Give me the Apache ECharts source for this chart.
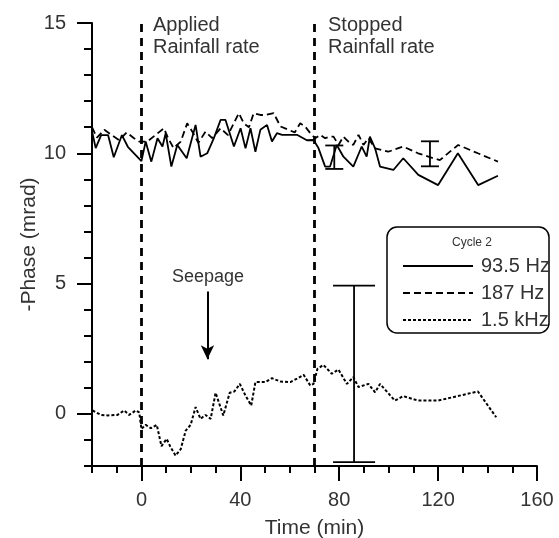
<!DOCTYPE html>
<html>
<head>
<meta charset="utf-8">
<script src="https://cdn.jsdelivr.net/npm/echarts@6/dist/echarts.min.js"></script>
<style>
  html, body { margin: 0; padding: 0; background: #fff; }
  #chart { width: 559px; height: 538px; }
</style>
</head>
<body>
<div id="chart"></div>
<script>
// [time (min), -phase (mrad)]
var hz93 = [
  [-20, 10.85], [-18.5, 10.2], [-16.3, 10.7], [-13.5, 10.7], [-11.2, 9.85], [-7.9, 10.7], [-5.5, 10.25],
  [-3, 10.0], [0, 9.7], [1.7, 10.45], [4, 9.68], [6.5, 10.58], [8.5, 10.26], [9.8, 10.77], [12.1, 9.49],
  [14.5, 10.32], [18.3, 9.81], [21.9, 11.09], [23.9, 9.87], [26.6, 10.0], [29.3, 10.58], [32, 11.28],
  [34, 11.28], [37.4, 10.26], [40.1, 10.96], [42.1, 10.19], [44.1, 10.96], [46.1, 10.06], [48.1, 10.9],
  [50.8, 11.09], [52.8, 10.45], [54.8, 10.77], [56.9, 10.71], [58.9, 10.71], [62.9, 10.71], [66.9, 10.5],
  [69.6, 10.51], [71.6, 10.2], [74.3, 9.49], [76.3, 9.49], [79, 10.32], [81.7, 9.87], [85.7, 9.49],
  [89.1, 10.26], [91.1, 9.87], [92.4, 10.64], [94.5, 10.19], [96.5, 9.49], [101.9, 9.36], [105.9, 9.81],
  [112, 9.17], [120, 8.78], [128, 10.0], [136.2, 8.78], [144.2, 9.14]
];
var hz187 = [
  [-20, 11.0], [-18, 10.6], [-15, 10.9], [-12, 10.7], [-9, 10.5], [-6, 10.8], [-3, 10.58], [-0.9, 10.45],
  [2.4, 10.45], [5.8, 10.71], [9.1, 10.96], [10.8, 10.58], [13, 10.2], [15.9, 10.45], [18.5, 11.15],
  [20.6, 10.83], [23, 10.4], [25.9, 10.83], [28.6, 10.58], [32, 10.96], [35, 10.7], [39.4, 11.54],
  [41.4, 11.15], [43.5, 11.0], [45.4, 11.54], [48.1, 11.47], [50.1, 11.47], [53.5, 11.54], [56.2, 11.03],
  [59.5, 10.9], [62, 10.8], [64.2, 11.15], [66.2, 11.03], [68.3, 10.77], [70.3, 10.58], [72.3, 10.71],
  [74.3, 10.58], [76.3, 10.64], [77.7, 10.64], [79.7, 10.32], [81.7, 10.64], [83.7, 10.45], [85.7, 10.32],
  [87.8, 10.71], [89.8, 10.32], [91.8, 10.58], [94.5, 10.19], [99.8, 10.06], [105.9, 10.26], [111.9, 10.0],
  [118, 9.81], [120.7, 9.74], [128.1, 10.32], [136.1, 10.0], [144.2, 9.68]
];
var khz15 = [
  [-19.8, 0.13], [-16.4, -0.04], [-13.7, -0.06], [-9.7, -0.04], [-7, 0.13], [-5, -0.04], [-2.3, 0.13],
  [-0.9, 0.06], [0, -0.58], [1.7, -0.42], [3.8, -0.55], [6.2, -0.42], [8.1, -1.24], [10.2, -0.96],
  [11.8, -1.28], [13.8, -1.6], [15.9, -1.35], [17.9, -0.64], [19.9, -0.42], [21.9, 0.26], [23.9, -0.19],
  [25.9, -0.04], [28, -0.19], [30, 0.81], [33.1, -0.06], [35.7, 0.81], [37.6, 0.86], [39.8, 1.15],
  [42.1, 0.7], [44.4, 0.32], [46.1, 1.22], [50.1, 1.22], [52.8, 1.37], [56.2, 1.24], [60.2, 1.22],
  [62.9, 1.35], [65.6, 1.5], [68.3, 1.09], [69.6, 1.15], [71.2, 1.73], [73.6, 1.88], [77, 1.54],
  [79.7, 1.7], [83.1, 1.15], [85.7, 1.41], [87.8, 1.03], [91.8, 1.15], [94.5, 0.83], [96.5, 1.15],
  [102.5, 0.51], [105.9, 0.68], [111.9, 0.51], [120, 0.51], [128.7, 0.7], [136.1, 0.86], [143.5, -0.13]
];
// [time, low, high]
var errorBars = [[78, 9.4, 10.3], [116.7, 9.5, 10.46], [86, -1.85, 4.92]];
var rainfallLines = [0, 70];
var seepageArrow = [[26.7, 4.7], [26.7, 2.1]];
var xLabelValues = [0, 40, 80, 120, 160];
var yLabelValues = [0, 5, 10, 15];

var capHalf = [9, 9, 21];
var textColor = '#333';
var font = 'Liberation Sans, Arial, sans-serif';

var chart = echarts.init(document.getElementById('chart'));

var option = {
  animation: false,
  backgroundColor: '#fff',
  textStyle: { fontFamily: font },
  grid: { left: 92, right: 22, top: 23, bottom: 72, containLabel: false, outerBoundsMode: 'none' },
  xAxis: [
    {
      type: 'value', min: -20, max: 160, interval: 10,
      name: 'Time (min)', nameLocation: 'middle', nameGap: 52,
      nameTextStyle: { fontSize: 21, color: textColor, fontFamily: font },
      axisLine: { onZero: false, lineStyle: { color: '#000', width: 2 } },
      axisTick: { length: 7, lineStyle: { color: '#000', width: 2 } },
      axisLabel: { customValues: xLabelValues, fontSize: 20, color: textColor, margin: 24, fontFamily: font },
      splitLine: { show: false }
    },
    {
      type: 'value', min: -20, max: 160, interval: 10, position: 'bottom', offset: 0,
      axisLine: { show: false, onZero: false },
      axisTick: { customValues: xLabelValues, length: 15, lineStyle: { color: '#000', width: 2 } },
      axisLabel: { show: false },
      splitLine: { show: false }
    }
  ],
  yAxis: [
    {
      type: 'value', min: -2, max: 15, interval: 1,
      name: '-Phase (mrad)', nameLocation: 'middle', nameGap: 52, nameMoveOverlap: false,
      nameTextStyle: { fontSize: 21, color: textColor, fontFamily: font },
      axisLine: { onZero: false, lineStyle: { color: '#000', width: 2 } },
      axisTick: { length: 8, lineStyle: { color: '#000', width: 2 } },
      axisLabel: { customValues: yLabelValues, fontSize: 20, color: textColor, margin: 26, fontFamily: font },
      splitLine: { show: false }
    },
    {
      type: 'value', min: -2, max: 15, interval: 1, position: 'left', offset: 0,
      axisLine: { show: false, onZero: false },
      axisTick: { customValues: yLabelValues, length: 15, lineStyle: { color: '#000', width: 2 } },
      axisLabel: { show: false },
      splitLine: { show: false }
    }
  ],
  legend: {
    orient: 'vertical',
    left: 397, top: 251,
    itemWidth: 70, itemHeight: 14, itemGap: 7,
    itemStyle: { opacity: 0 },
    textStyle: { fontSize: 20, color: textColor, fontFamily: font, padding: [0, 0, 0, 3] },
    data: ['93.5 Hz', '187 Hz', '1.5 kHz']
  },
  graphic: [
    { type: 'rect', shape: { x: 387, y: 227, width: 162, height: 106, r: 10 },
      style: { fill: '#fff', stroke: '#000', lineWidth: 1.5 }, z: -1 },
    { type: 'text', x: 472, y: 243, style: { text: 'Cycle 2', fontSize: 12, fill: textColor,
      fontFamily: font, align: 'center', verticalAlign: 'middle' } },
    { type: 'text', x: 153, y: 14, style: { text: 'Applied\nRainfall rate', fontSize: 20, lineHeight: 22,
      fill: textColor, fontFamily: font } },
    { type: 'text', x: 328, y: 14, style: { text: 'Stopped\nRainfall rate', fontSize: 20, lineHeight: 22,
      fill: textColor, fontFamily: font } },
    { type: 'text', x: 208, y: 277, style: { text: 'Seepage', fontSize: 18, fill: textColor,
      fontFamily: font, align: 'center', verticalAlign: 'middle' } }
  ],
  series: [
    {
      name: '93.5 Hz', type: 'line', data: hz93, symbol: 'none',
      lineStyle: { color: '#000', width: 1.8 }, itemStyle: { color: '#000' },
      markLine: {
        silent: true, symbol: ['none', 'none'], label: { show: false },
        lineStyle: { color: '#000', width: 2.8, type: [8, 6] },
        data: rainfallLines.map(function (t) { return [{ coord: [t, -2] }, { coord: [t, 15] }]; })
      }
    },
    {
      name: '187 Hz', type: 'line', data: hz187, symbol: 'none',
      lineStyle: { color: '#000', width: 1.8, type: [7, 4] }, itemStyle: { color: '#000' }
    },
    {
      name: '1.5 kHz', type: 'line', data: khz15, symbol: 'none',
      lineStyle: { color: '#000', width: 2, type: [3, 2] }, itemStyle: { color: '#000' },
      markLine: {
        silent: true, symbol: ['none', 'arrow'], symbolSize: [10, 14], label: { show: false },
        lineStyle: { color: '#000', width: 2, type: 'solid' },
        data: [[{ coord: seepageArrow[0] }, { coord: seepageArrow[1] }]]
      }
    },
    {
      type: 'custom', data: errorBars, silent: true, z: 3,
      renderItem: function (params, api) {
        var lo = api.coord([api.value(0), api.value(1)]);
        var hi = api.coord([api.value(0), api.value(2)]);
        var h = capHalf[params.dataIndex];
        var st = { stroke: '#000', lineWidth: 1.8 };
        return {
          type: 'group',
          children: [
            { type: 'line', shape: { x1: lo[0], y1: lo[1], x2: hi[0], y2: hi[1] }, style: st },
            { type: 'line', shape: { x1: lo[0] - h, y1: lo[1], x2: lo[0] + h, y2: lo[1] }, style: st },
            { type: 'line', shape: { x1: hi[0] - h, y1: hi[1], x2: hi[0] + h, y2: hi[1] }, style: st }
          ]
        };
      }
    }
  ]
};

chart.setOption(option);
</script>
</body>
</html>
